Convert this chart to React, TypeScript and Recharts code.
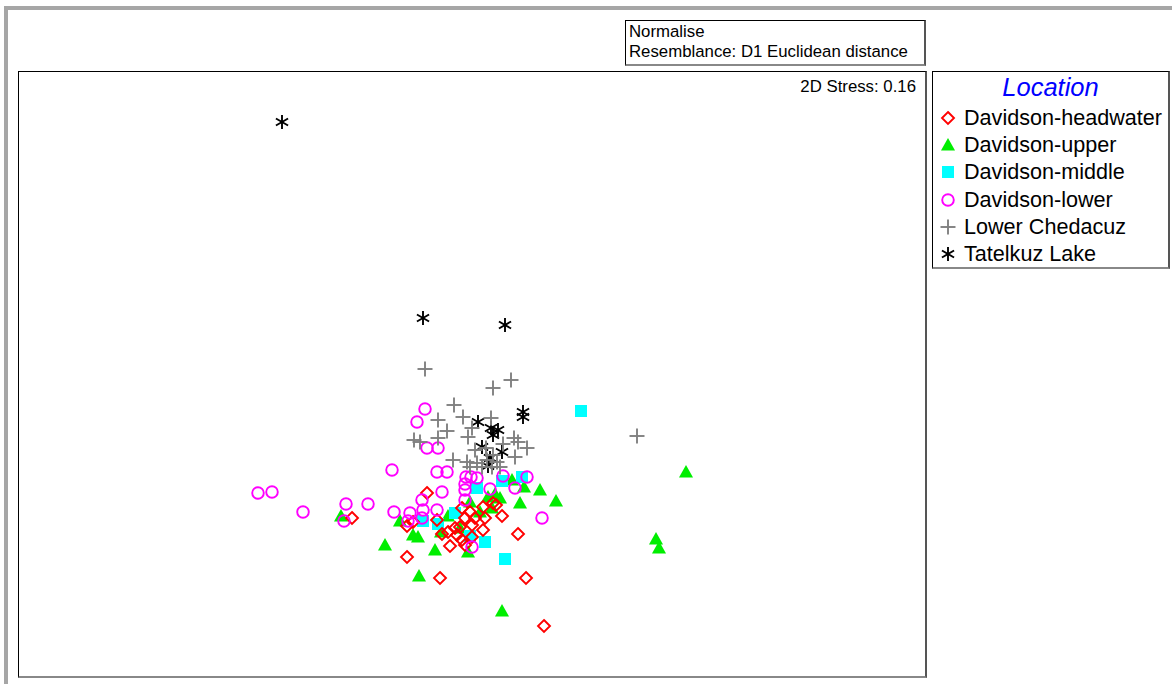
import React from "react";
import { ScatterChart, Scatter, XAxis, YAxis } from "recharts";

type P = { x: number; y: number };
const pts = (a: number[][]): P[] => a.map(([x, y]) => ({ x, y }));

// Coordinates (plot-frame units, y downwards)
const headwater = pts([[544,626],[526,578],[440,578],[407,557],[518,534],[352,518],[427,493],[493,503],[496,505],[483,507],[462,508],[470,512],[502,516],[485,518],[475,518],[465,518],[460,527],[472,525],[483,530],[455,528],[448,532],[442,534],[450,546],[465,545],[407,526],[437,520],[472,537],[462,540],[457,535],[413,522]]);
const upper = pts([[686,472],[656,539],[659,548],[540,490],[556,501],[520,503],[524,487],[502,611],[419,576],[385,545],[341,516],[400,521],[413,535],[418,537],[435,550],[468,552],[448,516],[480,512],[492,508],[495,494],[500,498],[470,502],[488,497],[441,532],[460,528],[512,480]]);
const middle = pts([[581,411],[502,481],[522,477],[477,488],[455,513],[423,521],[438,524],[470,536],[485,542],[505,559]]);
const lower = pts([[258,493],[272,492],[303,512],[346,504],[368,504],[344,521],[392,470],[425,409],[417,422],[427,448],[438,448],[437,472],[447,472],[466,477],[471,477],[477,478],[465,484],[503,476],[527,477],[465,490],[490,489],[515,488],[442,492],[422,500],[465,500],[394,512],[410,513],[423,510],[437,510],[408,521],[422,518],[542,518],[472,547]]);
const chedacuz = pts([[425,369],[511,380],[493,388],[637,436],[454,405],[463,417],[438,420],[447,431],[491,418],[472,428],[468,437],[414,440],[420,442],[438,438],[514,438],[518,442],[527,448],[515,457],[475,450],[486,448],[453,460],[467,462],[477,463],[482,467],[487,460],[493,455],[497,462],[492,467],[470,467],[500,467],[503,444]]);
const tatelkuz = pts([[282,122],[423,318],[505,325],[523,412],[523,417],[478,422],[491,428],[498,430],[493,435],[482,447],[502,452],[490,458],[488,466]]);

const legendLabels = ["Davidson-headwater","Davidson-upper","Davidson-middle","Davidson-lower","Lower Chedacuz","Tatelkuz Lake"];
const legendTitle = "Location";
const noteLines = ["Normalise","Resemblance: D1 Euclidean distance"];
const stressText = "2D Stress: 0.16";

const Diamond = ({ cx, cy }: any) => (
  <polygon points={`${cx},${cy - 6} ${cx + 6},${cy} ${cx},${cy + 6} ${cx - 6},${cy}`} fill="none" stroke="#FF0000" strokeWidth={1.9} />
);
const Triangle = ({ cx, cy }: any) => (
  <polygon points={`${cx},${cy - 7} ${cx + 7},${cy + 5.5} ${cx - 7},${cy + 5.5}`} fill="#00EE00" />
);
const Square = ({ cx, cy }: any) => <rect x={cx - 6} y={cy - 6} width={12} height={12} fill="#00FFFF" />;
const Circle = ({ cx, cy }: any) => <circle cx={cx} cy={cy} r={5.8} fill="none" stroke="#FF00FF" strokeWidth={1.9} />;
const Plus = ({ cx, cy }: any) => (
  <g stroke="#808080" strokeWidth={1.9}>
    <line x1={cx - 7.5} y1={cy} x2={cx + 7.5} y2={cy} />
    <line x1={cx} y1={cy - 7.5} x2={cx} y2={cy + 7.5} />
  </g>
);
const Aster = ({ cx, cy }: any) => {
  const r = 7;
  const c = r * Math.cos(Math.PI / 6), s = r * Math.sin(Math.PI / 6);
  return (
    <g stroke="#000" strokeWidth={1.9}>
      <line x1={cx} y1={cy - r} x2={cx} y2={cy + r} />
      <line x1={cx - c} y1={cy - s} x2={cx + c} y2={cy + s} />
      <line x1={cx - c} y1={cy + s} x2={cx + c} y2={cy - s} />
    </g>
  );
};
const shapes = [Diamond, Triangle, Square, Circle, Plus, Aster];

const font = "'Liberation Sans', Arial, sans-serif";
const boxStyle: React.CSSProperties = {
  position: "absolute",
  borderLeft: "1px solid #000",
  borderTop: "1px solid #000",
  borderRight: "2px solid #555",
  borderBottom: "2px solid #888",
  boxSizing: "border-box",
};

export default function App() {
  return (
    <div style={{ position: "absolute", left: 0, top: 0, width: 1172, height: 684, background: "#fff", fontFamily: font, overflow: "hidden" }}>
      <div style={{ position: "absolute", left: 4, top: 6, width: 1168, height: 4, background: "#a6a6a6" }} />
      <div style={{ position: "absolute", left: 4, top: 6, width: 4, height: 678, background: "#a6a6a6" }} />
      <div style={{ ...boxStyle, left: 625, top: 20, width: 301, height: 46, padding: "1px 3px", fontSize: 16.8, lineHeight: "20px", color: "#000", whiteSpace: "nowrap" }}>
        <div>{noteLines[0]}</div>
        <div>{noteLines[1]}</div>
      </div>
      <div style={{ ...boxStyle, left: 18, top: 71, width: 909, height: 607 }} />
      <div style={{ position: "absolute", right: 1172 - 916, top: 77, fontSize: 16.8, whiteSpace: "nowrap" }}>{stressText}</div>
      <div style={{ position: "absolute", left: 0, top: 0 }}>
        <ScatterChart width={1172} height={684} margin={{ top: 71, left: 18, right: 247, bottom: 9 }}>
          <XAxis type="number" dataKey="x" domain={[18, 925]} hide allowDataOverflow />
          <YAxis type="number" dataKey="y" domain={[71, 675]} reversed hide allowDataOverflow />
          <Scatter data={upper} shape={Triangle} isAnimationActive={false} />
          <Scatter data={middle} shape={Square} isAnimationActive={false} />
          <Scatter data={headwater} shape={Diamond} isAnimationActive={false} />
          <Scatter data={lower} shape={Circle} isAnimationActive={false} />
          <Scatter data={tatelkuz} shape={Aster} isAnimationActive={false} />
          <Scatter data={chedacuz} shape={Plus} isAnimationActive={false} />
        </ScatterChart>
      </div>
      <div style={{ ...boxStyle, left: 932, top: 71, width: 238, height: 198 }}>
        <div style={{ textAlign: "center", color: "#0000FF", fontStyle: "italic", fontSize: 25.5, lineHeight: "30px", marginTop: 0 }}>{legendTitle}</div>
        {legendLabels.map((l, i) => {
          const S = shapes[i];
          return (
            <div key={l} style={{ position: "absolute", left: 0, top: 33 + i * 27.2, height: 26, display: "flex", alignItems: "center", whiteSpace: "nowrap" }}>
              <svg width={30} height={26} style={{ display: "block" }}>
                <S cx={15} cy={13} />
              </svg>
              <span style={{ fontSize: 21.6, marginLeft: 1 }}>{l}</span>
            </div>
          );
        })}
      </div>
    </div>
  );
}
